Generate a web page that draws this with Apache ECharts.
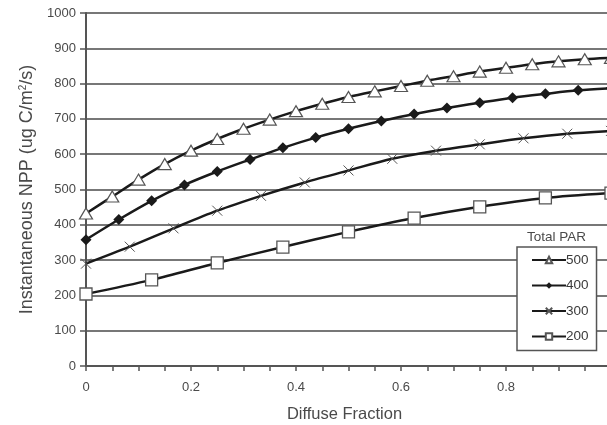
<!DOCTYPE html>
<html><head><meta charset="utf-8">
<script src="https://cdn.jsdelivr.net/npm/echarts@6/dist/echarts.min.js"></script>
<style>html,body{margin:0;padding:0;background:#fff}#c{width:607px;height:425px}</style>
</head><body><div id="c"></div>
<script>
var seriesNames = ['500', '400', '300', '200'];
var x500 = [0,0.05,0.1,0.15,0.2,0.25,0.3,0.35,0.4,0.45,0.5,0.55,0.6,0.65,0.7,0.75,0.8,0.85,0.9,0.95,1.0];
var y500 = [432,480,528,572,610,643,672,698,722,743,762,778,793,808,821,834,845,855,863,869,873];
var x400 = [0,0.0625,0.125,0.1875,0.25,0.3125,0.375,0.4375,0.5,0.5625,0.625,0.6875,0.75,0.8125,0.875,0.9375,1.0];
var y400 = [358,415,468,513,551,585,618,647,672,694,714,731,746,760,771,781,787];
var x300 = [0,1/12,2/12,3/12,4/12,5/12,6/12,7/12,8/12,9/12,10/12,11/12,1.0];
var y300 = [290,338,390,440,482,520,554,587,610,628,645,658,666];
var x200 = [0,0.125,0.25,0.375,0.5,0.625,0.75,0.875,1.0];
var y200 = [204,244,292,337,380,419,451,476,490];
var xTicks = [0, 0.2, 0.4, 0.6, 0.8, 1];
var yTicks = [0,100,200,300,400,500,600,700,800,900,1000];

function pairs(xs, ys){ return xs.map(function(x,i){ return [x, ys[i]]; }); }
var crossPath = 'path://M0,0L10,10M10,0L0,10';
var ink = '#1a1a1a';
var txt = '#4a4a4a';
var chart = echarts.init(document.getElementById('c'), null, {renderer:'canvas'});
var common = {type:'line', smooth:0.3, lineStyle:{color:ink, width:2.5}, itemStyle:{color:ink}, z:3};
chart.setOption({
  animation:false,
  textStyle:{fontFamily:'Liberation Sans, Arial, sans-serif'},
  grid:{left:86, top:13, width:525, height:353, containLabel:false, outerBoundsMode:'none'},
  graphic:[{type:'text', left:527, top:230, style:{text:'Total PAR', font:'13.5px Liberation Sans, Arial, sans-serif', fill:txt}}],
  legend:{
    orient:'vertical', left:517, top:247, width:85, padding:[6,8,7,14], itemGap:11.5,
    borderColor:'#555', borderWidth:1.5, backgroundColor:'#fff',
    itemWidth:34, itemHeight:8, textStyle:{color:'#3a3a3a', fontSize:13.5, padding:[0,0,0,-5]},
    data:seriesNames
  },
  xAxis:{
    type:'value', min:0, max:1, interval:0.2,
    name:'Diffuse Fraction', nameLocation:'middle', nameGap:40,
    nameTextStyle:{color:txt, fontSize:16.5, padding:[0,0,0,-8]},
    axisLine:{lineStyle:{color:'#555', width:2}},
    axisTick:{show:true, length:5, lineStyle:{color:'#555', width:1.5}},
    minorTick:{show:true, splitNumber:4, length:5, lineStyle:{color:'#555', width:1.5}},
    axisLabel:{color:txt, fontSize:13, margin:15, formatter:function(v){return String(Math.round(v*10)/10);}},
    splitLine:{show:false}
  },
  yAxis:{
    type:'value', min:0, max:1000, interval:100,
    name:'Instantaneous NPP (ug C/m{s|2}/s)', nameLocation:'middle', nameGap:50,
    nameTextStyle:{color:txt, fontSize:18, padding:[0,0,0,0], rich:{s:{fontSize:10, verticalAlign:'top', padding:[0,0,8,0], color:txt}}},
    axisLine:{show:true, lineStyle:{color:'#555', width:2}},
    axisTick:{show:true, length:6, lineStyle:{color:'#555', width:1.5}},
    axisLabel:{color:txt, fontSize:13, margin:10, formatter:function(v){return String(v);}},
    splitLine:{lineStyle:{color:'#777', width:2}}
  },
  series:[
    Object.assign({}, common, {name:'500', data:pairs(x500,y500), symbol:'triangle', symbolSize:[13,11],
      itemStyle:{color:'#fff', borderColor:'#555', borderWidth:1.2}}),
    Object.assign({}, common, {name:'400', data:pairs(x400,y400), symbol:'diamond', symbolSize:11,
      itemStyle:{color:ink}}),
    Object.assign({}, common, {name:'300', data:pairs(x300,y300), symbol:crossPath, symbolSize:10,
      itemStyle:{color:'none', borderColor:'#555', borderWidth:1}}),
    Object.assign({}, common, {name:'200', data:pairs(x200,y200), symbol:'rect', symbolSize:12,
      itemStyle:{color:'#fff', borderColor:'#555', borderWidth:1.3}})
  ]
});
</script></body></html>
